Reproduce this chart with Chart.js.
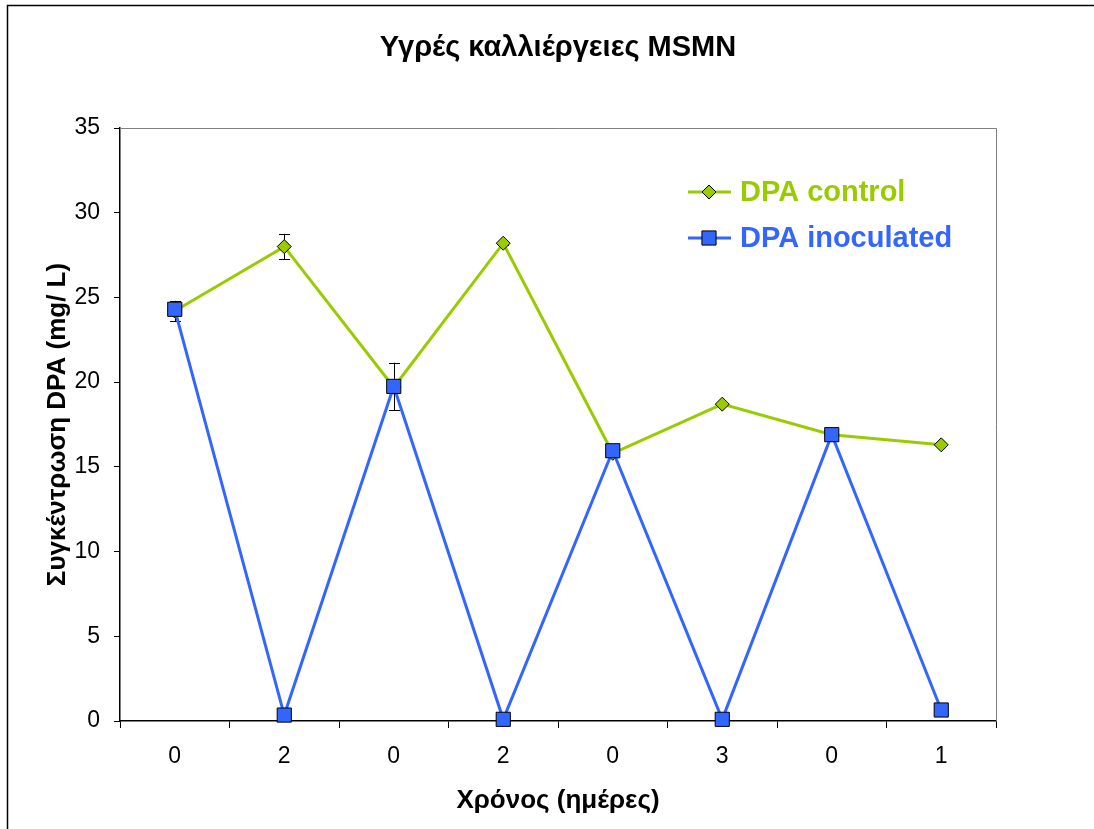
<!DOCTYPE html>
<html>
<head>
<meta charset="utf-8">
<script src="https://cdn.jsdelivr.net/npm/chart.js@4.4.0/dist/chart.umd.min.js"></script>
<style>
  html, body { margin: 0; padding: 0; background: #fff; }
  canvas { display: block; }
</style>
</head>
<body>
<canvas id="chart" width="1094" height="829"></canvas>
<script>
'use strict';

// time labels (days), repeated per culture run
let days = ['0', '2', '0', '2', '0', '3', '0', '1'];
let controlValues = [24.2, 28.0, 19.7, 28.2, 15.8, 18.7, 16.9, 16.3];
let controlErrors = [0.6, 0.75, 0, 0.1, 0, 0, 0, 0];
let inoculatedValues = [24.3, 0.35, 19.75, 0.1, 15.95, 0.1, 16.9, 0.65];
let inoculatedErrors = [0, 0, 1.4, 0, 0, 0, 0, 0];
let yTicks = [0, 5, 10, 15, 20, 25, 30, 35];

let font = '"Liberation Sans", Arial, sans-serif';
let green = '#99CC00';
let blue = '#3366FF';

// frame, title, plot border, legend and error bars
let extras = {
  id: 'extras',
  beforeDraw(chart) {
    let ctx = chart.ctx;
    ctx.save();
    ctx.fillStyle = '#fff';
    ctx.fillRect(0, 0, chart.width, chart.height);
    ctx.strokeStyle = '#000';
    ctx.lineWidth = 1.5;
    ctx.strokeRect(7.5, 5.5, chart.width + 20, chart.height + 20);
    ctx.restore();
  },
  beforeDatasetsDraw(chart) {
    let ctx = chart.ctx;
    let area = chart.chartArea;
    let x = chart.scales.x;
    let y = chart.scales.y;
    ctx.save();
    ctx.strokeStyle = '#808080';
    ctx.lineWidth = 1;
    ctx.beginPath();
    ctx.moveTo(area.left, area.top + 0.5);
    ctx.lineTo(area.right + 0.5, area.top + 0.5);
    ctx.lineTo(area.right + 0.5, area.bottom);
    ctx.stroke();

    ctx.strokeStyle = '#000';
    let sets = [[controlValues, controlErrors], [inoculatedValues, inoculatedErrors]];
    sets.forEach(([vals, errs]) => {
      vals.forEach((v, i) => {
        if (!errs[i]) return;
        let px = Math.round(x.getPixelForValue(i)) + 0.5;
        let top = y.getPixelForValue(v + errs[i]);
        let bot = y.getPixelForValue(v - errs[i]);
        ctx.beginPath();
        ctx.moveTo(px, top);
        ctx.lineTo(px, bot);
        ctx.moveTo(px - 5.5, Math.round(top) + 0.5);
        ctx.lineTo(px + 5.5, Math.round(top) + 0.5);
        ctx.moveTo(px - 5.5, Math.round(bot) + 0.5);
        ctx.lineTo(px + 5.5, Math.round(bot) + 0.5);
        ctx.stroke();
      });
    });
    ctx.restore();
  },
  afterDraw(chart) {
    let ctx = chart.ctx;
    let area = chart.chartArea;
    ctx.save();
    ctx.fillStyle = '#000';
    ctx.font = 'bold 29px ' + font;
    ctx.textAlign = 'center';
    ctx.textBaseline = 'middle';
    ctx.fillText('Υγρές καλλιέργειες MSMN', (area.left + area.right) / 2, 48);

    // legend
    let rows = [
      { text: 'DPA control', color: green, shape: 'rectRot', r: 7, y: 192 },
      { text: 'DPA inoculated', color: blue, shape: 'rect', r: 10, y: 238 }
    ];
    rows.forEach(row => {
      ctx.strokeStyle = row.color;
      ctx.lineWidth = 3;
      ctx.beginPath();
      ctx.moveTo(688, row.y);
      ctx.lineTo(731, row.y);
      ctx.stroke();
      ctx.fillStyle = row.color;
      ctx.strokeStyle = '#000';
      ctx.lineWidth = 1;
      Chart.helpers.drawPoint(ctx, { pointStyle: row.shape, radius: row.r, borderWidth: 1 }, 709, row.y);
      ctx.fillStyle = row.color;
      ctx.font = 'bold 29px ' + font;
      ctx.textAlign = 'left';
      ctx.fillText(row.text, 740, row.y + 1);
    });
    ctx.restore();
  }
};

let lineData = {
  labels: days,
  datasets: [
    {
      label: 'DPA inoculated',
      data: inoculatedValues,
      borderColor: blue,
      backgroundColor: blue,
      borderWidth: 3,
      pointStyle: 'rect',
      pointRadius: 10,
      pointBorderColor: '#000',
      pointBorderWidth: 1,
      pointBackgroundColor: blue,
      clip: false,
      order: 0
    },
    {
      label: 'DPA control',
      data: controlValues,
      borderColor: green,
      backgroundColor: green,
      borderWidth: 3,
      pointStyle: 'rectRot',
      pointRadius: 7,
      pointBorderColor: '#000',
      pointBorderWidth: 1,
      pointBackgroundColor: green,
      clip: false,
      order: 1
    }
  ]
};

let dpaChart = new Chart(document.getElementById('chart'), {
  type: 'line',
  data: lineData,
  plugins: [extras],
  options: {
    responsive: false,
    animation: false,
    devicePixelRatio: 1,
    layout: { padding: { top: 128, right: 98, left: 0, bottom: 0 } },
    plugins: {
      legend: { display: false },
      title: { display: false },
      tooltip: { enabled: false }
    },
    scales: {
      x: {
        type: 'category',
        offset: true,
        afterFit: s => { s.height = 108; },
        grid: {
          offset: true,
          drawOnChartArea: false,
          drawTicks: true,
          tickLength: 7,
          tickColor: '#000',
          tickWidth: 1
        },
        border: { display: true, color: '#000', width: 1.5 },
        ticks: { color: '#000', padding: 15, font: { family: font, size: 23 }, maxRotation: 0, autoSkip: false },
        title: {
          display: true,
          text: 'Χρόνος (ημέρες)',
          color: '#000',
          font: { family: font, size: 26, weight: 'bold' },
          padding: { top: 0, bottom: 13 }
        }
      },
      y: {
        min: 0,
        max: 35,
        afterFit: s => { s.width = 120; },
        afterBuildTicks: s => { s.ticks = yTicks.map(v => ({ value: v })); },
        grid: {
          drawOnChartArea: false,
          drawTicks: true,
          tickLength: 6,
          tickColor: '#000'
        },
        border: { display: true, color: '#000', width: 1.5 },
        ticks: { color: '#000', padding: 14, font: { family: font, size: 23 } },
        title: {
          display: true,
          text: 'Συγκέντρωση DPA (mg/ L)',
          color: '#000',
          font: { family: font, size: 26, weight: 'bold' },
          padding: { top: 42, bottom: 0 }
        }
      }
    }
  }
});
</script>
</body>
</html>
